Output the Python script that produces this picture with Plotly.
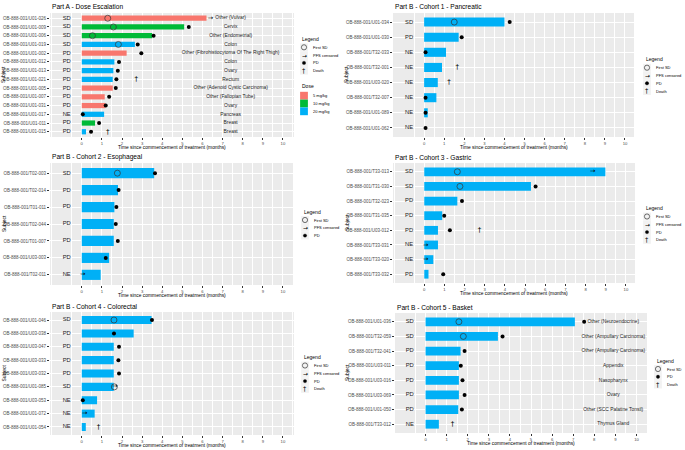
import plotly.graph_objects as go

W, H = 685, 450
FONT = "Liberation Sans, Arial, sans-serif"
BLUE = "#00B0F6"
DOSE_COLORS = {"5 mg/kg": "#F8766D", "10 mg/kg": "#00BA38", "20 mg/kg": BLUE}

# ---------------- Part A - Dose Escalation ----------------
a_subjects = ["OB-888-001/U01-026", "OB-888-001/U01-009", "OB-888-001/U01-006", "OB-888-001/U01-019",
              "OB-888-001/U01-002", "OB-888-001/U01-012", "OB-888-001/U01-013", "OB-888-001/U01-021",
              "OB-888-001/U01-005", "OB-888-001/U01-007", "OB-888-001/U01-031", "OB-888-001/U01-017",
              "OB-888-001/U01-011", "OB-888-001/U01-015"]
a_response = ["SD", "SD", "SD", "SD", "PD", "PD", "PD", "PD", "PD", "PD", "PD", "NE", "PD", "PD"]
a_duration = [6.20, 5.09, 3.50, 2.64, 2.23, 1.62, 1.57, 1.54, 1.54, 1.14, 1.17, 1.11, 0.66, 0.21]
a_dose = ["5 mg/kg", "10 mg/kg", "10 mg/kg", "20 mg/kg", "5 mg/kg", "20 mg/kg", "20 mg/kg", "20 mg/kg",
          "5 mg/kg", "5 mg/kg", "5 mg/kg", "20 mg/kg", "10 mg/kg", "20 mg/kg"]
a_first_sd = [1.29, 1.57, 0.53, 1.82, None, None, None, None, None, None, None, None, None, None]
a_pd = [None, 5.32, 3.57, 2.78, 2.96, 1.85, 1.79, 1.72, 1.69, 1.36, 1.19, 0.05, 0.86, 0.46]
a_censored = [6.40, None, None, None, None, None, None, None, None, None, None, None, None, None]
a_death = [None, None, None, None, None, None, None, 2.71, None, None, None, None, None, 1.29]
a_tumour = ["Other (Vulvar)", "Cervix", "Other (Endometrial)", "Colon",
            "Other (Fibrohistiocytoma Of The Right Thigh)", "Colon", "Ovary", "Rectum",
            "Other (Adenoid Cystic Carcinoma)", "Other (Fallopian Tube)", "Ovary", "Pancreas",
            "Breast", "Breast"]

# ---------------- Part B - Cohort 1 - Pancreatic ----------------
b1_subjects = ["OB-888-001/U01-034", "OB-888-001/U01-030", "OB-888-001/T32-033", "OB-888-001/T32-001",
               "OB-888-001/U03-020", "OB-888-001/T32-007", "OB-888-001/U01-089", "OB-888-001/U01-062"]
b1_response = ["SD", "PD", "NE", "NE", "NE", "NE", "NE", "NE"]
b1_duration = [4.00, 1.72, 1.09, 0.89, 0.68, 0.61, 0.18, 0.0]
b1_first_sd = [1.50, None, None, None, None, None, None, None]
b1_pd = [4.26, 1.87, 0.07, None, None, 0.07, 0.07, 0.07]
b1_censored = [None] * 8
b1_death = [None, None, None, 1.65, 1.24, None, None, None]

# ---------------- Part B - Cohort 2 - Esophageal ----------------
b2_subjects = ["OB-888-001/T02-003", "OB-888-001/T02-014", "OB-888-001/T01-011", "OB-888-001/T02-044",
               "OB-888-001/T01-007", "OB-888-001/U03-003", "OB-888-001/T02-011"]
b2_response = ["SD", "PD", "PD", "PD", "PD", "PD", "NE"]
b2_duration = [3.60, 1.80, 1.62, 1.59, 1.59, 1.36, 0.94]
b2_first_sd = [1.77, None, None, None, None, None, None]
b2_pd = [3.64, 1.83, 1.72, 1.69, 1.79, 1.19, None]
b2_censored = [None, None, None, None, None, None, 0.05]
b2_death = [None] * 7

# ---------------- Part B - Cohort 3 - Gastric ----------------
b3_subjects = ["OB-888-001/T33-013", "OB-888-001/T31-030", "OB-888-001/T32-023", "OB-888-001/T31-035",
               "OB-888-001/U03-012", "OB-888-001/T33-031", "OB-888-001/T33-020", "OB-888-001/T33-032"]
b3_response = ["SD", "SD", "PD", "PD", "PD", "NE", "NE", "PD"]
b3_duration = [8.98, 5.29, 1.64, 0.89, 0.68, 0.68, 0.45, 0.21]
b3_first_sd = [1.64, 1.77, None, None, None, None, None, None]
b3_pd = [None, 5.52, 1.87, 0.99, 1.27, None, None, 0.94]
b3_censored = [8.35, None, None, None, None, 0.07, 0.07, None]
b3_death = [None, None, None, None, 2.74, None, None, None]

# ---------------- Part B - Cohort 4 - Colorectal ----------------
b4_subjects = ["OB-888-001/U01-046", "OB-888-001/U03-038", "OB-888-001/U03-047", "OB-888-001/U03-033",
               "OB-888-001/U03-032", "OB-888-001/U01-085", "OB-888-001/U03-053", "OB-888-001/U01-072",
               "OB-888-001/U01-054"]
b4_response = ["SD", "PD", "PD", "PD", "PD", "SD", "NE", "NE", "NE"]
b4_duration = [3.47, 2.58, 1.59, 1.59, 1.59, 1.59, 0.76, 0.64, 0.20]
b4_first_sd = [1.60, None, None, None, None, 1.62, None, None, None]
b4_pd = [3.49, 1.60, 1.85, 1.82, 1.85, None, 0.05, None, None]
b4_censored = [None, None, None, None, None, 1.65, None, 0.15, None]
b4_death = [None, None, None, None, None, None, None, None, 0.83]

# ---------------- Part B - Cohort 5 - Basket ----------------
b5_subjects = ["OB-888-001/U01-036", "OB-888-001/T32-059", "OB-888-001/T32-041", "OB-888-001/U03-011",
               "OB-888-001/U03-016", "OB-888-001/U03-069", "OB-888-001/U01-050", "OB-888-001/T33-012"]
b5_response = ["SD", "SD", "PD", "PD", "PD", "PD", "PD", "NE"]
b5_duration = [7.08, 3.43, 1.66, 1.58, 1.58, 1.58, 1.55, 0.63]
b5_first_sd = [1.58, 1.79, None, None, None, None, None, None]
b5_pd = [7.52, 3.65, 1.85, 1.67, 1.75, 1.85, 1.72, None]
b5_censored = [None] * 8
b5_death = [None, None, None, None, None, None, None, 1.28]
b5_tumour = ["Other (Neuroendocrine)", "Other (Ampullary Carcinoma)", "Other (Ampullary Carcinoma)",
             "Appendix", "Nasopharynx", "Ovary", "Other (SCC Palatine Tonsil)", "Thymus Gland"]

x_ticks = list(range(0, 11))
x_title = "Time since commencement of treatment (months)"
y_title = "Subject"


def px(x):
    return x / W


def py(y):
    return 1 - y / H


fig = go.Figure()
annotations = []
shapes = []

panels = [
    dict(title="Part A - Dose Escalation", subj=a_subjects, resp=a_response, dur=a_duration,
         colors=[DOSE_COLORS[d] for d in a_dose], sd=a_first_sd, pd=a_pd, cens=a_censored, death=a_death,
         tumour=a_tumour, tumour_x=7.4, box=(50, 294, 13, 137), xr=(-1.58, 10.55)),
    dict(title="Part B - Cohort 1 - Pancreatic", subj=b1_subjects, resp=b1_response, dur=b1_duration,
         colors=[BLUE] * len(b1_subjects), sd=b1_first_sd, pd=b1_pd, cens=b1_censored, death=b1_death,
         tumour=None, box=(393, 634, 13, 137), xr=(-1.55, 10.45)),
    dict(title="Part B - Cohort 2 - Esophageal", subj=b2_subjects, resp=b2_response, dur=b2_duration,
         colors=[BLUE] * len(b2_subjects), sd=b2_first_sd, pd=b2_pd, cens=b2_censored, death=b2_death,
         tumour=None, box=(50, 293, 163, 285), xr=(-1.58, 10.5)),
    dict(title="Part B - Cohort 3 - Gastric", subj=b3_subjects, resp=b3_response, dur=b3_duration,
         colors=[BLUE] * len(b3_subjects), sd=b3_first_sd, pd=b3_pd, cens=b3_censored, death=b3_death,
         tumour=None, box=(393, 635, 163, 283), xr=(-1.55, 10.45)),
    dict(title="Part B - Cohort 4 - Colorectal", subj=b4_subjects, resp=b4_response, dur=b4_duration,
         colors=[BLUE] * len(b4_subjects), sd=b4_first_sd, pd=b4_pd, cens=b4_censored, death=b4_death,
         tumour=None, box=(50, 294, 312, 435), xr=(-1.58, 10.55)),
    dict(title="Part B - Cohort 5 - Basket", subj=b5_subjects, resp=b5_response, dur=b5_duration,
         colors=[BLUE] * len(b5_subjects), sd=b5_first_sd, pd=b5_pd, cens=b5_censored, death=b5_death,
         tumour=b5_tumour, tumour_x=8.9, box=(395, 647, 313, 433), xr=(-1.45, 10.5)),
]

layout_axes = {}
for i, p in enumerate(panels, start=1):
    xa = "x" if i == 1 else f"x{i}"
    ya = "y" if i == 1 else f"y{i}"
    xk = "xaxis" if i == 1 else f"xaxis{i}"
    yk = "yaxis" if i == 1 else f"yaxis{i}"
    x0, x1, y0, y1 = p["box"]
    n = len(p["subj"])

    fig.add_trace(go.Bar(x=p["dur"], y=p["subj"], orientation="h", width=0.6,
                         marker=dict(color=p["colors"], line=dict(width=0)),
                         xaxis=xa, yaxis=ya, showlegend=False))
    # response text
    fig.add_trace(go.Scatter(x=[-0.75] * n, y=p["subj"], mode="text", text=p["resp"],
                             textfont=dict(size=5.8, color="#1a1a1a", family=FONT),
                             xaxis=xa, yaxis=ya, showlegend=False))
    if p["tumour"] is not None:
        fig.add_trace(go.Scatter(x=[p["tumour_x"]] * n, y=p["subj"], mode="text", text=p["tumour"],
                                 textfont=dict(size=4.9, color="#1a1a1a", family=FONT),
                                 xaxis=xa, yaxis=ya, showlegend=False))
    fig.add_trace(go.Scatter(x=p["sd"], y=p["subj"], mode="markers",
                             marker=dict(symbol="circle-open", size=6, color="#333333", line=dict(width=0.7)),
                             xaxis=xa, yaxis=ya, showlegend=False))
    fig.add_trace(go.Scatter(x=p["pd"], y=p["subj"], mode="markers",
                             marker=dict(symbol="circle", size=4, color="black"),
                             xaxis=xa, yaxis=ya, showlegend=False))
    fig.add_trace(go.Scatter(x=p["cens"], y=p["subj"], mode="text", text=["→"] * n,
                             textfont=dict(size=6.5, color="black", family="DejaVu Sans"),
                             xaxis=xa, yaxis=ya, showlegend=False))
    fig.add_trace(go.Scatter(x=p["death"], y=p["subj"], mode="text", text=["†"] * n,
                             textfont=dict(size=7, color="black", family="DejaVu Sans"),
                             xaxis=xa, yaxis=ya, showlegend=False))

    layout_axes[xk] = dict(domain=[px(x0), px(x1)], range=list(p["xr"]), anchor=ya,
                           tickvals=x_ticks, ticks="outside", ticklen=1.5, tickwidth=0.6, tickcolor="#333333",
                           tickfont=dict(size=4.2, color="#4D4D4D", family=FONT),
                           showgrid=True, gridcolor="white", gridwidth=0.9, zeroline=False,
                           showline=False, automargin=False, fixedrange=True,
                           minor=dict(tickvals=[v + 0.5 for v in range(-2, 11)], showgrid=True,
                                      gridcolor="white", gridwidth=0.4, ticks=""))
    layout_axes[yk] = dict(domain=[py(y1), py(y0)], anchor=xa, type="category",
                           categoryorder="array", categoryarray=p["subj"],
                           range=[n - 1 + 0.6, -0.6],
                           ticks="outside", ticklen=2, tickwidth=0.6, tickcolor="#333333",
                           tickfont=dict(size=4.5, color="#4D4D4D", family=FONT),
                           showgrid=True, gridcolor="white", gridwidth=0.9, zeroline=False,
                           showline=False, automargin=False, fixedrange=True)

    # Titles
    annotations.append(dict(text=p["title"], x=px(x0), y=py(y0 - 6), xref="paper", yref="paper",
                            xanchor="left", yanchor="middle", showarrow=False,
                            font=dict(size=6.6, color="black", family=FONT)))
    annotations.append(dict(text=x_title, x=px((x0 + x1) / 2), y=py(y1 + 10.8), xref="paper", yref="paper",
                            xanchor="center", yanchor="middle", showarrow=False,
                            font=dict(size=4.9, color="black", family=FONT)))
    ytx = 4 if x0 < 200 else 347
    annotations.append(dict(text=y_title, x=px(ytx), y=py((y0 + y1) / 2), xref="paper", yref="paper",
                            xanchor="center", yanchor="middle", showarrow=False, textangle=-90,
                            font=dict(size=4.9, color="black", family=FONT)))


def add_legend(title, title_x, title_y, key_x, label_x, first_y, items, step=7.8):
    annotations.append(dict(text=title, x=px(title_x), y=py(title_y), xref="paper", yref="paper",
                            xanchor="left", yanchor="middle", showarrow=False,
                            font=dict(size=5, color="black", family=FONT)))
    for k, (kind, label) in enumerate(items):
        yc = first_y + k * step
        hs = step / 2
        if kind.startswith("#"):
            shapes.append(dict(type="rect", xref="paper", yref="paper",
                               x0=px(key_x - hs), x1=px(key_x + hs), y0=py(yc + hs), y1=py(yc - hs),
                               fillcolor=kind, line=dict(width=0)))
        else:
            shapes.append(dict(type="rect", xref="paper", yref="paper",
                               x0=px(key_x - hs), x1=px(key_x + hs), y0=py(yc + hs), y1=py(yc - hs),
                               fillcolor="#F2F2F2", line=dict(width=0)))
            if kind == "sd":
                r = 2.6
                shapes.append(dict(type="circle", xref="paper", yref="paper",
                                   x0=px(key_x - r), x1=px(key_x + r), y0=py(yc + r), y1=py(yc - r),
                                   line=dict(color="#333333", width=0.7)))
            elif kind == "pd":
                r = 1.7
                shapes.append(dict(type="circle", xref="paper", yref="paper",
                                   x0=px(key_x - r), x1=px(key_x + r), y0=py(yc + r), y1=py(yc - r),
                                   fillcolor="black", line=dict(color="black", width=0.3)))
            elif kind == "cens":
                annotations.append(dict(text="→", x=px(key_x), y=py(yc), xref="paper", yref="paper",
                                        xanchor="center", yanchor="middle", showarrow=False,
                                        font=dict(size=6, color="black", family="DejaVu Sans")))
            elif kind == "death":
                annotations.append(dict(text="†", x=px(key_x), y=py(yc), xref="paper", yref="paper",
                                        xanchor="center", yanchor="middle", showarrow=False,
                                        font=dict(size=6.5, color="black", family="DejaVu Sans")))
        annotations.append(dict(text=label, x=px(label_x), y=py(yc), xref="paper", yref="paper",
                                xanchor="left", yanchor="middle", showarrow=False,
                                font=dict(size=4, color="black", family=FONT)))


full = [("sd", "First SD"), ("cens", "PFS censored"), ("pd", "PD"), ("death", "Death")]
add_legend("Legend", 300, 39, 304, 311, 47.3, full)
add_legend("Dose", 300, 86, 304, 311, 95.7,
           [(DOSE_COLORS["5 mg/kg"], "5 mg/kg"), (DOSE_COLORS["10 mg/kg"], "10 mg/kg"),
            (DOSE_COLORS["20 mg/kg"], "20 mg/kg")])
add_legend("Legend", 644, 59, 647, 654, 67.7, full)
add_legend("Legend", 302, 212, 305, 312, 220, full[:3])
add_legend("Legend", 644, 208, 647, 654, 216.5, full)
add_legend("Legend", 302, 357, 305, 312, 365.5, full)
add_legend("Legend", 655, 361, 658, 665, 369, [("sd", "First SD"), ("pd", "PD"), ("death", "Death")])

fig.update_layout(
    width=W, height=H,
    margin=dict(l=0, r=0, t=0, b=0),
    paper_bgcolor="white", plot_bgcolor="#EBEBEB",
    font=dict(family=FONT),
    showlegend=False, barmode="overlay", bargap=0.4,
    annotations=annotations, shapes=shapes,
    **layout_axes,
)

fig.write_html("out.html", config={"displayModeBar": False},
               post_script="document.body.style.margin='0';document.body.style.overflow='hidden';")
